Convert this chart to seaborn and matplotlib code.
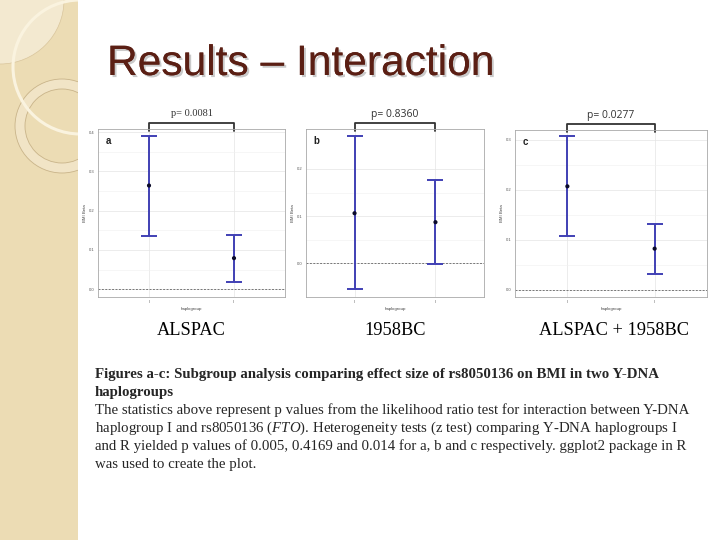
import numpy as np
import pandas as pd
import matplotlib
matplotlib.use("Agg")
import matplotlib.pyplot as plt
import matplotlib.patches as mpatches
import matplotlib.patheffects as pe
import matplotlib.transforms as mtransforms
import seaborn as sns

# -----------------------------------------------------------------------------
# Data
# -----------------------------------------------------------------------------
groups = ["I", "II"]

a_est = [0.264, 0.079]
a_lo = [0.136, 0.017]
a_hi = [0.391, 0.139]

b_est = [0.106, 0.087]
b_lo = [-0.055, -0.001]
b_hi = [0.271, 0.176]

c_est = [0.207, 0.082]
c_lo = [0.107, 0.032]
c_hi = [0.307, 0.132]

p_values = ["p= 0.0081", "p= 0.8360", "p= 0.0277"]
panel_letters = ["a", "b", "c"]
cohorts = ["ALSPAC", "1958BC", "ALSPAC + 1958BC"]

caption_bold = [
    "Figures a-c: Subgroup analysis comparing effect size of rs8050136 on BMI in two Y-DNA",
    "haplogroups",
]
caption_plain = [
    "The statistics above represent p values from the likelihood ratio test for interaction between Y-DNA",
    r"haplogroup I and rs8050136 ($\mathit{FTO}$). Heterogeneity tests (z test) comparing Y-DNA haplogroups I",
    "and R yielded p values of 0.005, 0.4169 and 0.014 for a, b and c respectively. ggplot2 package in R",
    "was used to create the plot.",
]

# -----------------------------------------------------------------------------
# Style
# -----------------------------------------------------------------------------
sns.set_theme(style="whitegrid")
plt.rcParams["font.family"] = ["Liberation Sans", "DejaVu Sans"]
plt.rcParams["mathtext.fontset"] = "custom"
plt.rcParams["mathtext.it"] = "Liberation Serif:italic"
plt.rcParams["mathtext.rm"] = "Liberation Serif"

err_col = "#4040b4"
W, H = 720, 540

fig = plt.figure(figsize=(7.2, 5.4), dpi=100)
fig.patch.set_facecolor("white")

# background layer in pixel coordinates
bg = fig.add_axes([0, 0, 1, 1], zorder=-5)
bg.set_xlim(0, W)
bg.set_ylim(H, 0)
bg.axis("off")
strip = mpatches.Rectangle((0, 0), 78, H, facecolor="#ecdcb4", edgecolor="none")
bg.add_patch(strip)
pieces = [
    mpatches.Circle((0, 0), 64, facecolor="#f3e9d0", edgecolor="#d9c59c", lw=0.5),
    mpatches.Circle((62, 126), 42, facecolor="none", edgecolor="#f1e4c6", lw=7),
    mpatches.Circle((62, 126), 47, facecolor="none", edgecolor="#c9b48a", lw=0.6),
    mpatches.Circle((62, 126), 37, facecolor="none", edgecolor="#c9b48a", lw=0.6),
    mpatches.Circle((80, 67), 67, facecolor="none", edgecolor="#faf3df", lw=2.2),
]
for p in pieces:
    bg.add_patch(p)
    p.set_clip_path(strip)

# title
bg.text(107, 75, "Results \u2013 Interaction", fontsize=30.6, color="#5b1f14",
        family=["Liberation Sans", "DejaVu Sans"], va="baseline", ha="left",
        path_effects=[pe.withSimplePatchShadow(offset=(1.5, -1.5), shadow_rgbFace="#bdbdbd", alpha=0.8),
                      pe.Normal()])

# -----------------------------------------------------------------------------
# Panels
# -----------------------------------------------------------------------------
panels = [
    dict(rect=[98, 129, 285, 297], est=a_est, lo=a_lo, hi=a_hi, ylim=(-0.02, 0.408),
         ticks=[0.0, 0.1, 0.2, 0.3, 0.4], pfont=["Liberation Serif"]),
    dict(rect=[306, 129, 484, 297], est=b_est, lo=b_lo, hi=b_hi, ylim=(-0.072, 0.285),
         ticks=[0.0, 0.1, 0.2], pfont=["Open Sans"]),
    dict(rect=[515, 130, 707, 297], est=c_est, lo=c_lo, hi=c_hi, ylim=(-0.015, 0.32),
         ticks=[0.0, 0.1, 0.2, 0.3], pfont=["Open Sans"]),
]

for i, pan in enumerate(panels):
    x0, y0, x1, y1 = pan["rect"]
    ax = fig.add_axes([x0 / W, 1 - y1 / H, (x1 - x0) / W, (y1 - y0) / H])
    df = pd.DataFrame({"pos": [0, 1], "haplogroup": groups, "est": pan["est"],
                       "lo": pan["lo"], "hi": pan["hi"]})
    ax.errorbar(df["pos"], df["est"],
                yerr=[df["est"] - df["lo"], df["hi"] - df["est"]],
                fmt="none", ecolor=err_col, elinewidth=1.4, capsize=6, capthick=1.4, zorder=3)
    sns.scatterplot(x="pos", y="est", data=df, color="#0b0b2a", s=9, edgecolor="none",
                    ax=ax, zorder=4, legend=False)
    ax.axhline(0, color="#777777", lw=0.7, ls=(0, (2, 1.5)), zorder=2)

    ax.set_xlim(-0.6, 1.6)
    ax.set_ylim(*pan["ylim"])
    ax.set_xticks([0, 1])
    ax.set_xticklabels(groups)
    ax.set_yticks(pan["ticks"])
    ax.set_yticklabels([f"{t:.1f}" for t in pan["ticks"]])
    ax.set_yticks(np.array(pan["ticks"][:-1]) + 0.05, minor=True)
    ax.grid(which="major", color="#e4e4e4", lw=0.5)
    ax.grid(which="minor", color="#f0f0f0", lw=0.4)
    ax.tick_params(axis="both", which="major", labelsize=3, length=1.5, width=0.4,
                   pad=1, colors="#555555")
    ax.tick_params(axis="both", which="minor", length=0)
    ax.set_xlabel("haplogroup", fontsize=3.2, labelpad=1.5, color="#444444")
    ax.set_ylabel("BMI Beta", fontsize=3.2, labelpad=1.5, color="#444444")
    for s in ax.spines.values():
        s.set_color("#a8a8a8")
        s.set_linewidth(0.6)
    ax.text(0.04, 0.93, panel_letters[i], transform=ax.transAxes, fontsize=7,
            fontweight="bold", color="#222222", va="center")

    # p-value bracket between the groups
    tr = mtransforms.blended_transform_factory(ax.transData, ax.transAxes)
    top = 1 + 6 / (y1 - y0)
    leg = 1 - 2 / (y1 - y0)
    ax.plot([0, 0, 1, 1], [leg, top, top, leg], color="#333333", lw=1.3,
            transform=tr, clip_on=False)
    ax.text(0.5, 1 + 15 / (y1 - y0), p_values[i], transform=tr, ha="center",
            va="center", fontsize=7.5, color="#333333",
            family=pan["pfont"] + ["DejaVu Sans"])

# cohort labels
for xc, lab in zip([191, 395, 614], cohorts):
    bg.text(xc, 335, lab, fontsize=13.2, family=["Liberation Serif"], ha="center",
            va="baseline", color="black")

# caption
base = 378
for k, line in enumerate(caption_bold):
    bg.text(95, base + 18 * k, line, fontsize=10.7, fontweight="bold",
            family=["Liberation Serif"], ha="left", va="baseline")
for k, line in enumerate(caption_plain):
    bg.text(95, base + 18 * (k + 2), line, fontsize=10.7,
            family=["Liberation Serif"], ha="left", va="baseline")

plt.savefig("out.png", dpi=100)
